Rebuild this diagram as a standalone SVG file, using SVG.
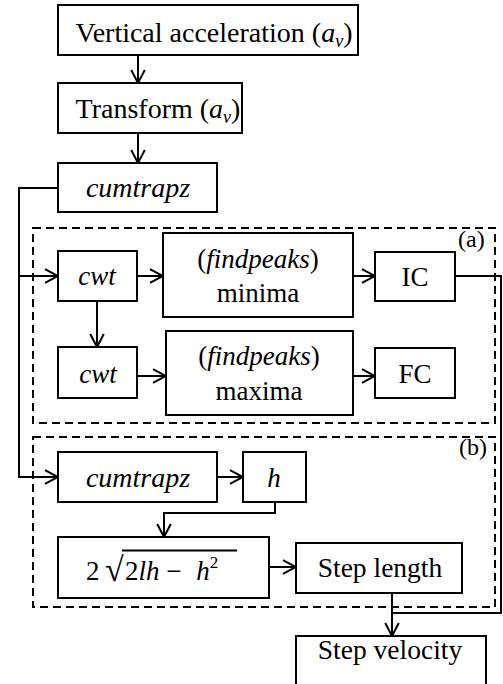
<svg xmlns="http://www.w3.org/2000/svg" width="503" height="684" viewBox="0 0 503 684" font-family="Liberation Serif, DejaVu Serif, serif">
  <style>
    .box { fill: #fff; stroke: #000; stroke-width: 2; }
    .grp { fill: none; stroke: #000; stroke-width: 2; stroke-dasharray: 8 5; }
    .wire { fill: none; stroke: #000; stroke-width: 2; }
    text { font-family: 'Liberation Serif', 'DejaVu Serif', serif; font-size: 27px; fill: #000; }
    .mid { text-anchor: middle; }
    .it { font-style: italic; }
    .sub { font-size: 18px; font-style: italic; }
    .lbl { font-size: 24px; }
  </style>
  <defs>
    <marker id="arrow" viewBox="0 0 15 16" refX="14" refY="8" markerWidth="15" markerHeight="16" markerUnits="userSpaceOnUse" orient="auto">
      <polyline points="1,1.2 14,8 1,14.8" fill="none" stroke="#000" stroke-width="2"/>
    </marker>
  </defs>

  <!-- dashed sub-process frames -->
  <g id="group-a">
    <rect class="grp" x="33" y="228" width="462" height="195"/>
    <text class="lbl" x="458" y="247">(a)</text>
  </g>
  <g id="group-b">
    <rect class="grp" x="33" y="437" width="462" height="170"/>
    <text class="lbl" x="459" y="455">(b)</text>
  </g>

  <!-- connectors -->
  <g id="connectors">
    <line class="wire" x1="138" y1="55" x2="138" y2="83" marker-end="url(#arrow)"/>
    <line class="wire" x1="138" y1="133" x2="138" y2="163" marker-end="url(#arrow)"/>
    <polyline class="wire" points="58,188 19,188 19,477 58,477" marker-end="url(#arrow)"/>
    <line class="wire" x1="19" y1="276" x2="58" y2="276" marker-end="url(#arrow)"/>
    <line class="wire" x1="137" y1="276" x2="163" y2="276" marker-end="url(#arrow)"/>
    <line class="wire" x1="353" y1="276" x2="375" y2="276" marker-end="url(#arrow)"/>
    <line class="wire" x1="97" y1="301" x2="97" y2="347" marker-end="url(#arrow)"/>
    <line class="wire" x1="137" y1="376" x2="166" y2="376" marker-end="url(#arrow)"/>
    <line class="wire" x1="353" y1="376" x2="375" y2="376" marker-end="url(#arrow)"/>
    <polyline class="wire" points="455,276 501,276 501,613 392,613"/>
    <line class="wire" x1="217" y1="477" x2="243" y2="477" marker-end="url(#arrow)"/>
    <polyline class="wire" points="275,502 275,513 164,513 164,537" marker-end="url(#arrow)"/>
    <line class="wire" x1="269" y1="567" x2="296" y2="567" marker-end="url(#arrow)"/>
    <line class="wire" x1="392" y1="593" x2="392" y2="636" marker-end="url(#arrow)"/>
  </g>

  <!-- nodes -->
  <g id="vertical-acceleration">
    <rect class="box" x="58" y="5" width="300" height="50"/>
    <text class="mid" x="214" y="42" style="font-size:28px">Vertical acceleration (<tspan class="it">a</tspan><tspan class="sub" dy="5">v</tspan><tspan dy="-5">)</tspan></text>
  </g>
  <g id="transform">
    <rect class="box" x="58" y="83" width="184" height="50"/>
    <text class="mid" x="158" y="118" style="font-size:28px">Transform (<tspan class="it">a</tspan><tspan class="sub" dy="5">v</tspan><tspan dy="-5">)</tspan></text>
  </g>
  <g id="cumtrapz-1">
    <rect class="box" x="58" y="163" width="159" height="49"/>
    <text class="mid it" x="138" y="197" style="font-size:28px">cumtrapz</text>
  </g>

  <g id="cwt-1">
    <rect class="box" x="58" y="251" width="79" height="50"/>
    <text class="mid it" x="97" y="285">cwt</text>
  </g>
  <g id="findpeaks-minima">
    <rect class="box" x="163" y="233" width="190" height="84"/>
    <text class="mid" x="258" y="268">(<tspan class="it">findpeaks</tspan>)</text>
    <text class="mid" x="258" y="302">minima</text>
  </g>
  <g id="ic">
    <rect class="box" x="375" y="252" width="80" height="49"/>
    <text class="mid" x="415" y="286">IC</text>
  </g>
  <g id="cwt-2">
    <rect class="box" x="58" y="347" width="79" height="51"/>
    <text class="mid it" x="98" y="383">cwt</text>
  </g>
  <g id="findpeaks-maxima">
    <rect class="box" x="166" y="331" width="187" height="84"/>
    <text class="mid" x="259" y="365">(<tspan class="it">findpeaks</tspan>)</text>
    <text class="mid" x="259" y="400">maxima</text>
  </g>
  <g id="fc">
    <rect class="box" x="375" y="348" width="80" height="50"/>
    <text class="mid" x="415" y="383">FC</text>
  </g>

  <g id="cumtrapz-2">
    <rect class="box" x="58" y="452" width="159" height="50"/>
    <text class="mid it" x="138" y="487" style="font-size:28px">cumtrapz</text>
  </g>
  <g id="h">
    <rect class="box" x="243" y="452" width="63" height="50"/>
    <text class="mid it" x="274" y="487">h</text>
  </g>
  <g id="formula">
    <rect class="box" x="58" y="537" width="211" height="61"/>
    <text x="86" y="580">2</text>
    <text x="105" y="581" style="font-size:34px">√</text>
    <line x1="122" y1="550.5" x2="237" y2="550.5" stroke="#000" stroke-width="1.8"/>
    <text x="125" y="580">2<tspan class="it">lh</tspan> − <tspan class="it" dx="8">h</tspan><tspan font-size="17" dy="-12">2</tspan></text>
  </g>
  <g id="step-length">
    <rect class="box" x="296" y="543" width="166" height="50"/>
    <text class="mid" x="380" y="577" style="font-size:27.5px">Step length</text>
  </g>
  <g id="step-velocity">
    <rect class="box" x="296" y="636" width="190" height="60"/>
    <text class="mid" x="390" y="659" style="font-size:27.5px">Step velocity</text>
  </g>
</svg>
